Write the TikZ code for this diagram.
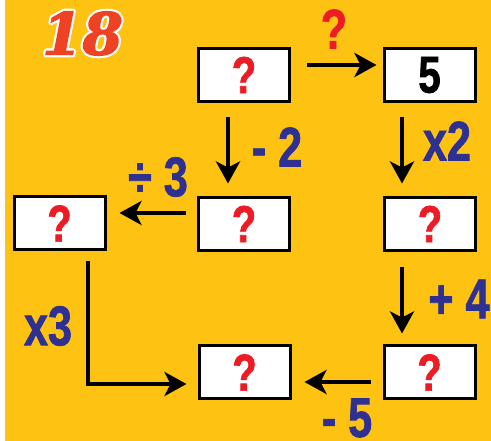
\documentclass[tikz,border=0pt]{standalone}
\usepackage{fontspec}
\usetikzlibrary{arrows.meta}
\newfontfamily\numfont[FakeStretch=0.77,FakeBold=1.3]{Liberation Sans}
\newfontfamily\titlefont[FakeBold=2.2]{DejaVu Serif}
\definecolor{bgyellow}{HTML}{FDC212}
\definecolor{opblue}{HTML}{2E3192}
\definecolor{qred}{HTML}{ED1C24}
\definecolor{titlered}{HTML}{EF4123}

\begin{document}
\begin{tikzpicture}[x=1pt,y=1pt]
	\tikzset{box/.style = {shape=rectangle,draw,fill=white,line width=3pt,
			minimum width=91pt,minimum height=53pt,inner sep=0pt,text=qred,
			font=\numfont\bfseries\fontsize{52}{52}\selectfont}}
	\tikzset{edge/.style = {->,> = {Stealth[length=22pt,width=24pt,inset=6pt]},line width=4.5pt}}
	\tikzset{lbl/.style = {inner sep=0pt,text=opblue,
			font=\numfont\bfseries\fontsize{56}{56}\selectfont}}
	\tikzset{title/.style = {inner sep=0pt,text=titlered,
			font=\titlefont\bfseries\itshape\fontsize{58}{58}\selectfont}}
	% background
	\fill[white] (0,0) rectangle (491,441);
	\fill[bgyellow] (5,0) rectangle (491,441);
	% title, white rim first
	\foreach \a in {0,45,...,315}
		\node[title,text=white,shift={(\a:2.2pt)}] at (82.5,407.5) {18};
	\node[title] (t18) at (82.5,407.5) {18};
	% boxes
	\node[box] (q1) at (244,366) {?};
	\node[box,text=black] (n5) at (429.5,366) {5};
	\node[box] (q2) at (244,217) {?};
	\node[box] (q3) at (430,217) {?};
	\node[box] (q4) at (59.5,217.5) {?};
	\node[box] (q5) at (244.5,68.5) {?};
	\node[box] (q6) at (429.5,68.5) {?};
	% arrows
	\draw[edge] ([shift={(16,10)}]q1.east) -- ([shift={(-6,10)}]n5.west);
	\draw[edge] ([shift={(-16,-14.5)}]q1.south) -- ([shift={(-16,12.5)}]q2.north);
	\draw[edge] ([shift={(-27.5,-14.5)}]n5.south) -- ([shift={(-28,12.5)}]q3.north);
	\draw[edge] ([shift={(-11.5,11)}]q2.west) -- ([shift={(13,10.5)}]q4.east);
	\draw[edge] ([shift={(-28,-15.5)}]q3.south) -- ([shift={(-27.5,11)}]q6.north);
	\draw[edge] ([shift={(-12,-9.5)}]q6.west) -- ([shift={(13,-9.5)}]q5.east);
	\draw[edge] ([shift={(28.5,-10)}]q4.south) |- ([shift={(-11,-11.5)}]q5.west);
	% operations
	\node[lbl,text=qred] (op) at (334,412) {?};
	\node[lbl] (m2) at (277,294) {- 2};
	\node[lbl] (x2) at (447,300) {x2};
	\node[lbl] (d3) at (158,264) {÷ 3};
	\node[lbl] (p4) at (459,142) {+ 4};
	\node[lbl] (x3) at (48,115) {x3};
	\node[lbl] (m5) at (347,23) {- 5};
\end{tikzpicture}
\end{document}
